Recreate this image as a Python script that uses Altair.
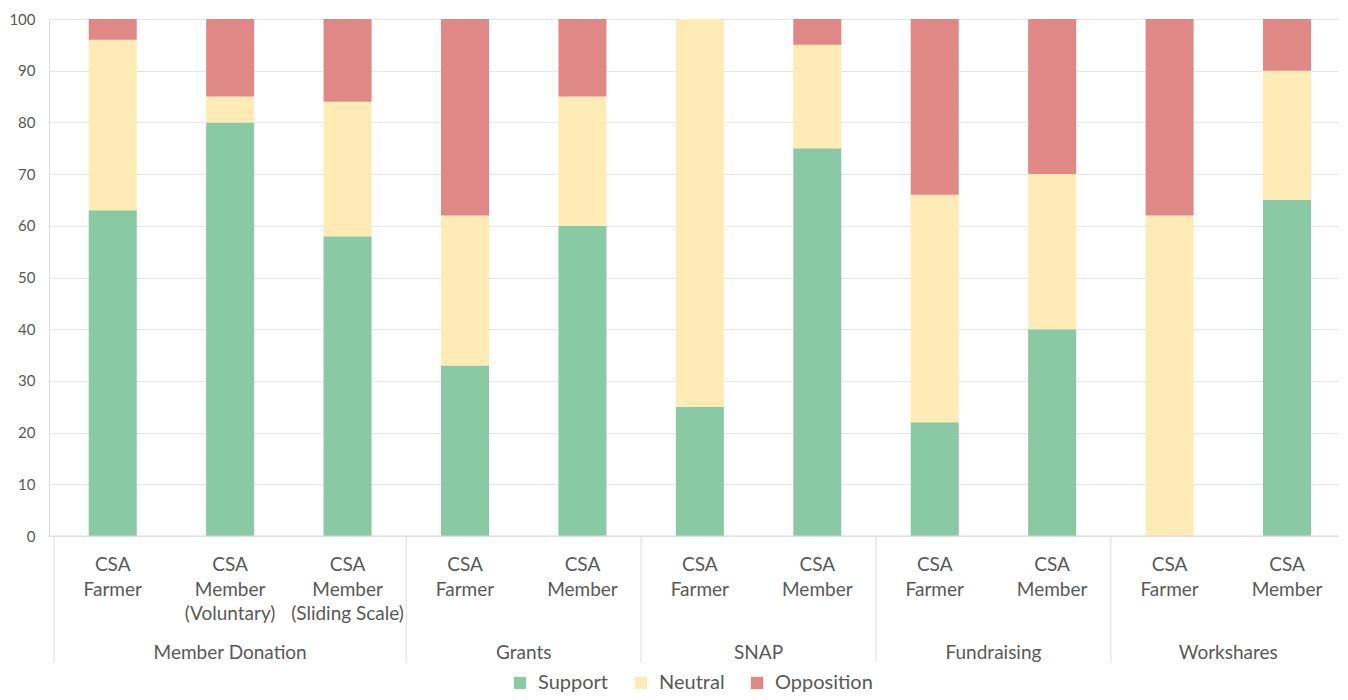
import altair as alt
import pandas as pd

# ---- data ----
groups = ["Member Donation", "Member Donation", "Member Donation",
          "Grants", "Grants", "SNAP", "SNAP",
          "Fundraising", "Fundraising", "Workshares", "Workshares"]
roles = ["CSA\nFarmer", "CSA\nMember\n(Voluntary)", "CSA\nMember\n(Sliding Scale)",
         "CSA\nFarmer", "CSA\nMember", "CSA\nFarmer", "CSA\nMember",
         "CSA\nFarmer", "CSA\nMember", "CSA\nFarmer", "CSA\nMember"]
series = ["Support", "Neutral", "Opposition"]
support = [63, 80, 58, 33, 60, 25, 75, 22, 40, 0, 65]
neutral = [33, 5, 26, 29, 25, 75, 20, 44, 30, 62, 25]
opposition = [4, 15, 16, 38, 15, 0, 5, 34, 30, 38, 10]
colors = ["#89C9A4", "#FFEBB5", "#E08886"]

# ---- tables built from the arrays ----
rows = []
for i in range(len(roles)):
    for k, (name, vals) in enumerate(zip(series, [support, neutral, opposition])):
        rows.append({"pos": i, "series": name, "order": k, "value": vals[i]})
bars_df = pd.DataFrame(rows)

labels_df = pd.DataFrame({"pos": list(range(len(roles))), "role": roles})

grp_names = list(dict.fromkeys(groups))
grp_df = pd.DataFrame({
    "group": grp_names,
    "center": [sum(i for i, g in enumerate(groups) if g == n) / groups.count(n) for n in grp_names],
    "start": [min(i for i, g in enumerate(groups) if g == n) - 0.5 for n in grp_names],
})
sep_df = pd.DataFrame({"x": list(grp_df["start"]) + [len(roles) - 0.5]})

xscale = alt.Scale(domain=[-0.5, 10.4], nice=False, zero=False)
FONT = "Lato"
GRAY = "#595959"

bars = alt.Chart(bars_df).transform_stack(
    stack="value", groupby=["pos"], as_=["y0", "y1"],
    sort=[alt.SortField("order", "ascending")]
).mark_bar(width=48).encode(
    x=alt.X("pos:Q", scale=xscale, axis=None),
    y=alt.Y("y0:Q", scale=alt.Scale(domain=[0, 100], nice=False),
            axis=alt.Axis(values=list(range(0, 101, 10)), title=None, grid=True,
                          gridColor="#E6E6E6", gridWidth=1, domain=False, ticks=False,
                          labelColor=GRAY, labelFontSize=15, labelFont=FONT,
                          labelPadding=14)),
    y2="y1:Q",
    color=alt.Color("series:N", scale=alt.Scale(domain=series, range=colors),
                    legend=alt.Legend(title=None, orient="none", direction="horizontal",
                                      legendX=461, legendY=654, symbolType="square",
                                      symbolSize=150, symbolStrokeWidth=0,
                                      labelFontSize=20, labelColor=GRAY, labelFont=FONT,
                                      labelOffset=8, columnPadding=22)),
    order=alt.Order("order:Q"),
)

baseline = alt.Chart(pd.DataFrame({"v": [0]})).mark_rule(color="#D9D9D9", strokeWidth=1).encode(
    y=alt.Y("v:Q", scale=alt.Scale(domain=[0, 100], nice=False))
)

seps = alt.Chart(sep_df).mark_rule(color="#DDDDDD", strokeWidth=1).encode(
    x=alt.X("x:Q", scale=xscale),
    y=alt.value(517), y2=alt.value(643)
)

role_text = alt.Chart(labels_df).mark_text(
    lineBreak="\n", baseline="top", align="center", fontSize=19, font=FONT,
    color=GRAY, lineHeight=24.5
).encode(
    x=alt.X("pos:Q", scale=xscale),
    y=alt.value(537),
    text="role:N"
)

grp_text = alt.Chart(grp_df).mark_text(
    baseline="middle", align="center", fontSize=19, font=FONT, color=GRAY
).encode(
    x=alt.X("center:Q", scale=xscale),
    y=alt.value(634),
    text="group:N"
)

chart = alt.layer(bars, baseline, seps, role_text, grp_text).properties(
    width=1290, height=517,
    autosize=alt.AutoSizeParams(type="none"),
    padding={"left": 41, "top": 11, "right": 0, "bottom": 156},
).configure_view(stroke=None).configure(font=FONT)

chart.save("out.html", embed_options={"renderer": "svg", "actions": False})
